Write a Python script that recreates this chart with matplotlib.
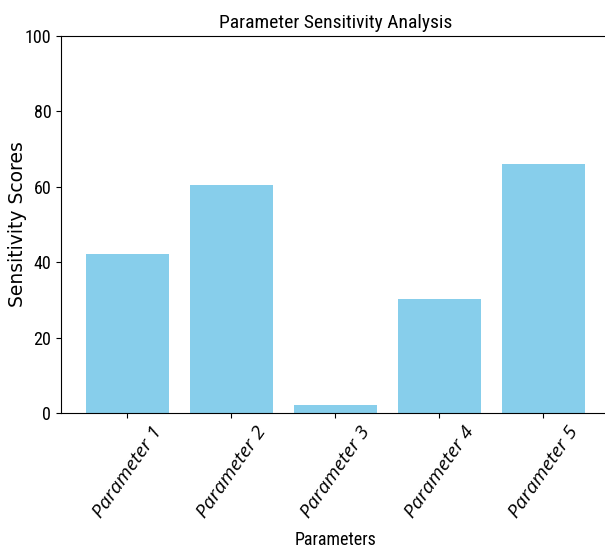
import matplotlib
matplotlib.use("Agg")
import matplotlib.pyplot as plt

categories = ["Parameter 1", "Parameter 2", "Parameter 3", "Parameter 4", "Parameter 5"]
scores = [42.2, 60.6, 2.1, 30.2, 66.0]
yticks = [0, 20, 40, 60, 80, 100]

narrow = ["Roboto Condensed", "DejaVu Sans"]

fig = plt.figure(figsize=(6.05, 5.49), dpi=100)
ax = fig.add_axes([0.1008, 0.2477, 0.907, 0.6867])
ax.bar(categories, scores, color="skyblue", width=0.8)
ax.set_ylim(0, 100)
ax.set_yticks(yticks)
ax.set_yticklabels([str(v) for v in yticks], family=narrow, fontsize=13)
ax.set_xticks(range(len(categories)))
ax.set_xticklabels(categories, rotation=55, family=["Open Sans", "Noto Sans", "DejaVu Sans"],
                   fontstyle="italic", fontsize=14, ha="center")
ax.set_title("Parameter Sensitivity Analysis", family=narrow, fontsize=14)
ax.set_xlabel("Parameters", family=narrow, fontsize=13, labelpad=7)
ax.set_ylabel("Sensitivity Scores", fontsize=13.5)
ax.yaxis.set_label_coords(-0.062, 0.5)
fig.savefig("out.png", dpi=100)
